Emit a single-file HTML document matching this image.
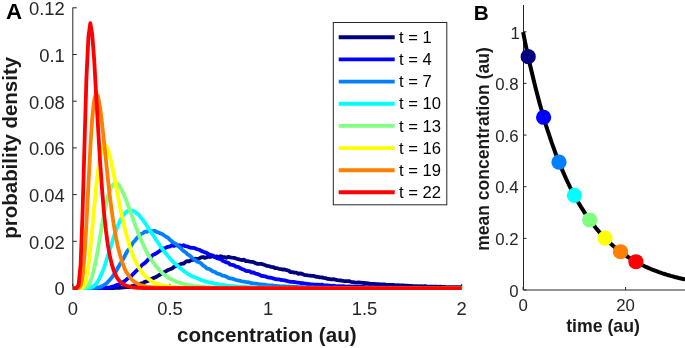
<!DOCTYPE html><html><head><meta charset="utf-8"><title>figure</title><style>html,body{margin:0;padding:0;background:#fff}</style></head><body><svg width="685" height="348" viewBox="0 0 685 348" style="display:block">
<rect width="685" height="348" fill="#fff"/>
<g stroke="#262626" stroke-width="1" fill="none">
<path d="M72.8 7.5V288.5H461.7"/>
<path d="M72.8 288.0h4"/>
<path d="M72.8 241.3h4"/>
<path d="M72.8 194.6h4"/>
<path d="M72.8 147.9h4"/>
<path d="M72.8 101.2h4"/>
<path d="M72.8 54.5h4"/>
<path d="M72.8 7.8h4"/>
<path d="M72.8 288.5v-4.7"/>
<path d="M170.0 288.5v-4.7"/>
<path d="M267.2 288.5v-4.7"/>
<path d="M364.5 288.5v-4.7"/>
<path d="M461.7 288.5v-4.7"/>
</g>
<g font-family="Liberation Sans, Arial, Helvetica, sans-serif" font-size="18.4" fill="#262626">
<text x="64.8" y="295.3" text-anchor="end">0</text>
<text x="64.8" y="248.6" text-anchor="end">0.02</text>
<text x="64.8" y="201.9" text-anchor="end">0.04</text>
<text x="64.8" y="155.2" text-anchor="end">0.06</text>
<text x="64.8" y="108.5" text-anchor="end">0.08</text>
<text x="64.8" y="61.8" text-anchor="end">0.1</text>
<text x="64.8" y="15.1" text-anchor="end">0.12</text>
<text x="72.8" y="314.6" text-anchor="middle">0</text>
<text x="170.0" y="314.6" text-anchor="middle">0.5</text>
<text x="268.1" y="314.6" text-anchor="middle">1</text>
<text x="364.5" y="314.6" text-anchor="middle">1.5</text>
<text x="461.7" y="314.6" text-anchor="middle">2</text>
</g>
<path d="M72.8 288.15 74.7 288.15 76.7 288.15 78.6 288.15 80.6 288.15 82.5 288.15 84.5 288.15 86.4 288.15 88.4 288.15 90.3 288.15 92.2 288.15 94.2 288.15 96.1 288.15 98.1 288.15 100.0 288.15 102.0 288.15 103.9 288.14 105.9 288.13 107.8 288.11 109.7 288.10 111.7 288.07 113.6 287.98 115.6 287.94 117.5 287.89 119.5 287.77 121.4 287.59 123.4 287.32 125.3 287.23 127.2 286.96 129.2 286.54 131.1 286.34 133.1 285.86 135.0 285.25 137.0 284.73 138.9 284.19 140.9 283.45 142.8 283.28 144.7 281.89 146.7 281.42 148.6 280.70 150.6 279.42 152.5 278.38 154.5 277.65 156.4 276.79 158.4 275.51 160.3 274.49 162.2 273.06 164.2 272.17 166.1 271.27 168.1 269.96 170.0 269.31 172.0 268.52 173.9 267.07 175.9 266.11 177.8 265.44 179.7 264.74 181.7 263.55 183.6 263.68 185.6 261.82 187.5 261.17 189.5 261.26 191.4 260.03 193.4 259.84 195.3 258.69 197.2 259.26 199.2 258.43 201.1 257.46 203.1 256.98 205.0 257.95 207.0 257.12 208.9 256.65 210.9 256.88 212.8 255.99 214.7 257.00 216.7 256.43 218.6 257.01 220.6 256.19 222.5 256.85 224.5 257.14 226.4 257.84 228.4 256.80 230.3 257.41 232.2 257.69 234.2 257.86 236.1 258.48 238.1 259.20 240.0 259.64 242.0 260.03 243.9 259.65 245.9 261.09 247.8 261.22 249.7 261.57 251.7 261.83 253.6 262.18 255.6 263.28 257.5 263.92 259.5 263.82 261.4 263.91 263.4 264.55 265.3 265.23 267.2 265.90 269.2 266.19 271.1 266.86 273.1 267.02 275.0 268.01 277.0 268.21 278.9 268.77 280.9 269.05 282.8 269.62 284.8 269.42 286.7 270.20 288.6 270.66 290.6 272.10 292.5 272.07 294.5 272.58 296.4 272.70 298.4 273.87 300.3 273.38 302.3 273.82 304.2 274.82 306.1 275.13 308.1 275.47 310.0 275.63 312.0 275.86 313.9 275.89 315.9 276.77 317.8 276.89 319.8 277.37 321.7 277.34 323.6 277.89 325.6 278.07 327.5 278.89 329.5 279.00 331.4 279.41 333.4 279.22 335.3 279.67 337.3 280.12 339.2 280.41 341.1 280.48 343.1 280.95 345.0 281.22 347.0 281.20 348.9 281.07 350.9 281.77 352.8 282.03 354.8 282.34 356.7 282.56 358.6 282.44 360.6 282.58 362.5 282.90 364.5 283.02 366.4 283.22 368.4 283.39 370.3 283.79 372.3 283.79 374.2 283.85 376.1 284.12 378.1 284.22 380.0 284.40 382.0 284.47 383.9 284.44 385.9 284.72 387.8 284.81 389.8 284.81 391.7 284.94 393.6 284.92 395.6 285.47 397.5 285.23 399.5 285.48 401.4 285.51 403.4 285.52 405.3 285.58 407.3 285.68 409.2 285.85 411.1 285.78 413.1 286.05 415.0 286.11 417.0 286.09 418.9 286.29 420.9 286.10 422.8 286.28 424.8 286.24 426.7 286.49 428.6 286.58 430.6 286.59 432.5 286.60 434.5 286.76 436.4 286.73 438.4 286.81 440.3 286.73 442.3 286.95 444.2 286.87 446.1 287.04 448.1 287.10 450.0 287.12 452.0 287.19 453.9 287.13 455.9 287.11 457.8 287.20 459.8 287.20 461.7 287.17" fill="none" stroke="#000080" stroke-width="3.8" stroke-linejoin="round"/>
<path d="M72.8 288.15 74.7 288.15 76.7 288.15 78.6 288.15 80.6 288.15 82.5 288.15 84.5 288.15 86.4 288.15 88.4 288.15 90.3 288.15 92.2 288.15 94.2 288.14 96.1 288.14 98.1 288.12 100.0 288.08 102.0 288.03 103.9 287.93 105.9 287.81 107.8 287.57 109.7 287.41 111.7 286.89 113.6 286.48 115.6 285.62 117.5 284.81 119.5 284.33 121.4 282.99 123.4 281.83 125.3 280.68 127.2 278.91 129.2 277.55 131.1 276.19 133.1 274.07 135.0 272.20 137.0 270.25 138.9 268.75 140.9 266.26 142.8 264.30 144.7 263.06 146.7 261.07 148.6 259.09 150.6 257.58 152.5 255.11 154.5 254.17 156.4 253.23 158.4 251.86 160.3 250.42 162.2 248.50 164.2 248.51 166.1 247.61 168.1 246.81 170.0 246.48 172.0 245.19 173.9 245.95 175.9 245.29 177.8 245.44 179.7 245.30 181.7 246.10 183.6 245.22 185.6 246.24 187.5 246.57 189.5 247.39 191.4 247.84 193.4 247.94 195.3 248.43 197.2 249.21 199.2 249.77 201.1 250.72 203.1 251.78 205.0 252.31 207.0 253.25 208.9 254.38 210.9 254.96 212.8 255.64 214.7 256.93 216.7 258.05 218.6 258.56 220.6 259.03 222.5 260.69 224.5 261.54 226.4 262.43 228.4 262.83 230.3 264.72 232.2 264.82 234.2 265.38 236.1 266.83 238.1 266.90 240.0 267.97 242.0 269.05 243.9 269.56 245.9 270.78 247.8 271.19 249.7 271.20 251.7 272.60 253.6 272.50 255.6 273.63 257.5 273.95 259.5 274.77 261.4 275.88 263.4 276.01 265.3 276.34 267.2 277.15 269.2 277.67 271.1 277.75 273.1 278.41 275.0 279.06 277.0 279.26 278.9 279.34 280.9 279.98 282.8 280.08 284.8 280.32 286.7 280.94 288.6 281.47 290.6 281.80 292.5 281.87 294.5 282.01 296.4 282.38 298.4 282.60 300.3 283.00 302.3 283.13 304.2 283.47 306.1 283.67 308.1 284.01 310.0 284.24 312.0 284.28 313.9 284.54 315.9 284.70 317.8 284.65 319.8 284.91 321.7 284.70 323.6 285.08 325.6 285.40 327.5 285.37 329.5 285.55 331.4 285.78 333.4 285.71 335.3 286.01 337.3 286.34 339.2 286.06 341.1 286.29 343.1 286.18 345.0 286.46 347.0 286.59 348.9 286.43 350.9 286.73 352.8 286.69 354.8 286.66 356.7 286.83 358.6 286.91 360.6 286.96 362.5 286.96 364.5 287.13 366.4 287.08 368.4 287.13 370.3 287.06 372.3 287.28 374.2 287.36 376.1 287.30 378.1 287.40 380.0 287.40 382.0 287.44 383.9 287.42 385.9 287.55 387.8 287.55 389.8 287.71 391.7 287.65 393.6 287.55 395.6 287.68 397.5 287.71 399.5 287.75 401.4 287.69 403.4 287.73 405.3 287.81 407.3 287.75 409.2 287.78 411.1 287.78 413.1 287.85 415.0 287.77 417.0 287.84 418.9 287.87 420.9 287.90 422.8 287.90 424.8 287.88 426.7 287.93 428.6 287.89 430.6 287.92 432.5 287.91 434.5 287.93 436.4 287.97 438.4 288.03 440.3 287.97 442.3 287.97 444.2 287.99 446.1 287.99 448.1 288.02 450.0 288.03 452.0 288.05 453.9 288.00 455.9 288.03 457.8 288.05 459.8 288.07 461.7 288.05" fill="none" stroke="#0000ff" stroke-width="3.8" stroke-linejoin="round"/>
<path d="M72.8 288.15 74.7 288.15 76.7 288.15 78.6 288.15 80.6 288.15 82.5 288.15 84.5 288.15 86.4 288.15 88.4 288.14 90.3 288.13 92.2 288.10 94.2 287.95 96.1 287.80 98.1 287.38 100.0 287.14 102.0 286.18 103.9 285.11 105.9 283.92 107.8 282.10 109.7 279.98 111.7 277.61 113.6 275.16 115.6 272.09 117.5 268.54 119.5 265.07 121.4 261.98 123.4 258.50 125.3 254.99 127.2 251.30 129.2 248.86 131.1 245.93 133.1 242.58 135.0 240.50 137.0 238.05 138.9 235.85 140.9 234.06 142.8 233.31 144.7 231.59 146.7 231.83 148.6 230.53 150.6 231.16 152.5 231.15 154.5 230.76 156.4 231.70 158.4 232.59 160.3 233.37 162.2 234.09 164.2 235.49 166.1 236.79 168.1 237.79 170.0 239.93 172.0 241.38 173.9 242.98 175.9 243.97 177.8 245.67 179.7 247.20 181.7 249.34 183.6 251.02 185.6 252.25 187.5 254.31 189.5 255.41 191.4 256.97 193.4 258.98 195.3 260.20 197.2 261.61 199.2 262.32 201.1 263.36 203.1 265.51 205.0 266.68 207.0 268.54 208.9 268.88 210.9 270.01 212.8 271.32 214.7 271.76 216.7 273.31 218.6 273.82 220.6 274.56 222.5 275.69 224.5 275.93 226.4 276.59 228.4 277.82 230.3 278.44 232.2 278.61 234.2 279.31 236.1 280.08 238.1 280.40 240.0 280.84 242.0 281.29 243.9 281.54 245.9 282.02 247.8 282.17 249.7 282.59 251.7 283.03 253.6 283.29 255.6 283.55 257.5 283.92 259.5 284.44 261.4 284.40 263.4 284.73 265.3 284.76 267.2 285.15 269.2 285.28 271.1 285.48 273.1 285.51 275.0 285.82 277.0 286.01 278.9 286.09 280.9 286.29 282.8 286.36 284.8 286.48 286.7 286.56 288.6 286.53 290.6 286.81 292.5 286.86 294.5 286.96 296.4 286.97 298.4 287.17 300.3 287.21 302.3 287.22 304.2 287.24 306.1 287.34 308.1 287.41 310.0 287.48 312.0 287.45 313.9 287.44 315.9 287.54 317.8 287.59 319.8 287.61 321.7 287.71 323.6 287.71 325.6 287.73 327.5 287.74 329.5 287.77 331.4 287.85 333.4 287.77 335.3 287.77 337.3 287.87 339.2 287.86 341.1 287.88 343.1 287.88 345.0 287.97 347.0 287.89 348.9 287.96 350.9 287.93 352.8 287.97 354.8 288.00 356.7 288.00 358.6 287.98 360.6 288.04 362.5 288.03 364.5 288.04 366.4 288.08 368.4 288.01 370.3 288.04 372.3 288.06 374.2 288.04 376.1 288.09 378.1 288.07 380.0 288.04 382.0 288.06 383.9 288.12 385.9 288.15 387.8 288.11 389.8 288.08 391.7 288.11 393.6 288.11 395.6 288.10 397.5 288.12 399.5 288.11 401.4 288.10 403.4 288.11 405.3 288.11 407.3 288.13 409.2 288.11 411.1 288.13 413.1 288.11 415.0 288.10 417.0 288.13 418.9 288.13 420.9 288.13 422.8 288.13 424.8 288.13 426.7 288.13 428.6 288.13 430.6 288.13 432.5 288.14 434.5 288.14 436.4 288.14 438.4 288.14 440.3 288.14 442.3 288.14 444.2 288.14 446.1 288.14 448.1 288.14 450.0 288.14 452.0 288.14 453.9 288.14 455.9 288.14 457.8 288.14 459.8 288.14 461.7 288.14" fill="none" stroke="#0080ff" stroke-width="3.8" stroke-linejoin="round"/>
<path d="M72.8 288.15 74.7 288.15 76.7 288.15 78.6 288.15 80.6 288.15 82.5 288.15 84.5 288.14 86.4 288.09 88.4 287.94 90.3 287.71 92.2 286.85 94.2 285.55 96.1 283.77 98.1 281.03 100.0 277.16 102.0 272.92 103.9 268.07 105.9 262.17 107.8 256.03 109.7 249.68 111.7 243.69 113.6 237.13 115.6 231.65 117.5 226.38 119.5 221.93 121.4 218.01 123.4 215.16 125.3 212.99 127.2 211.29 129.2 210.37 131.1 210.51 133.1 210.73 135.0 211.91 137.0 213.51 138.9 215.08 140.9 217.64 142.8 219.83 144.7 222.73 146.7 225.41 148.6 228.58 150.6 231.50 152.5 234.21 154.5 237.32 156.4 240.29 158.4 243.24 160.3 245.91 162.2 248.89 164.2 251.46 166.1 253.80 168.1 256.28 170.0 258.52 172.0 260.55 173.9 262.58 175.9 264.48 177.8 265.98 179.7 267.74 181.7 269.26 183.6 270.90 185.6 272.32 187.5 273.71 189.5 274.71 191.4 276.05 193.4 276.82 195.3 277.54 197.2 278.27 199.2 279.15 201.1 280.15 203.1 280.62 205.0 281.43 207.0 281.75 208.9 282.41 210.9 282.75 212.8 282.93 214.7 283.59 216.7 283.77 218.6 284.41 220.6 284.78 222.5 284.87 224.5 285.09 226.4 285.59 228.4 285.74 230.3 286.10 232.2 286.16 234.2 286.22 236.1 286.47 238.1 286.65 240.0 286.85 242.0 286.82 243.9 286.90 245.9 287.02 247.8 287.13 249.7 287.32 251.7 287.20 253.6 287.38 255.6 287.45 257.5 287.46 259.5 287.67 261.4 287.61 263.4 287.66 265.3 287.68 267.2 287.67 269.2 287.75 271.1 287.87 273.1 287.84 275.0 287.84 277.0 287.87 278.9 287.94 280.9 287.97 282.8 287.92 284.8 287.95 286.7 287.97 288.6 288.03 290.6 287.95 292.5 288.09 294.5 288.03 296.4 287.98 298.4 288.05 300.3 288.05 302.3 288.08 304.2 288.04 306.1 288.10 308.1 288.07 310.0 288.08 312.0 288.11 313.9 288.08 315.9 288.12 317.8 288.11 319.8 288.11 321.7 288.12 323.6 288.11 325.6 288.10 327.5 288.12 329.5 288.13 331.4 288.13 333.4 288.13 335.3 288.13 337.3 288.13 339.2 288.13 341.1 288.13 343.1 288.13 345.0 288.13 347.0 288.14 348.9 288.14 350.9 288.14 352.8 288.14 354.8 288.14 356.7 288.14 358.6 288.14 360.6 288.14 362.5 288.14 364.5 288.14 366.4 288.14 368.4 288.14 370.3 288.14 372.3 288.14 374.2 288.15 376.1 288.15 378.1 288.15 380.0 288.15 382.0 288.15 383.9 288.15 385.9 288.15 387.8 288.15 389.8 288.15 391.7 288.15 393.6 288.15 395.6 288.15 397.5 288.15 399.5 288.15 401.4 288.15 403.4 288.15 405.3 288.15 407.3 288.15 409.2 288.15 411.1 288.15 413.1 288.15 415.0 288.15 417.0 288.15 418.9 288.15 420.9 288.15 422.8 288.15 424.8 288.15 426.7 288.15 428.6 288.15 430.6 288.15 432.5 288.15 434.5 288.15 436.4 288.15 438.4 288.15 440.3 288.15 442.3 288.15 444.2 288.15 446.1 288.15 448.1 288.15 450.0 288.15 452.0 288.15 453.9 288.15 455.9 288.15 457.8 288.15 459.8 288.15 461.7 288.15" fill="none" stroke="#00ffff" stroke-width="3.8" stroke-linejoin="round"/>
<path d="M72.8 288.15 74.7 288.15 76.7 288.15 78.6 288.15 80.6 288.15 82.5 288.08 84.5 287.88 86.4 287.00 88.4 285.31 90.3 281.83 92.2 276.36 94.2 268.52 96.1 259.25 98.1 248.27 100.0 236.94 102.0 225.13 103.9 214.22 105.9 204.88 107.8 196.68 109.7 190.67 111.7 186.13 113.6 183.98 115.6 183.47 117.5 183.79 119.5 186.11 121.4 189.39 123.4 193.32 125.3 198.08 127.2 202.92 129.2 208.37 131.1 213.43 133.1 219.00 135.0 224.70 137.0 229.87 138.9 234.71 140.9 239.64 142.8 243.81 144.7 247.95 146.7 251.91 148.6 255.44 150.6 258.55 152.5 261.40 154.5 264.11 156.4 266.81 158.4 268.93 160.3 271.19 162.2 272.85 164.2 274.69 166.1 275.92 168.1 277.53 170.0 278.68 172.0 279.59 173.9 280.45 175.9 281.59 177.8 282.21 179.7 282.78 181.7 283.36 183.6 284.05 185.6 284.39 187.5 284.85 189.5 285.03 191.4 285.46 193.4 285.95 195.3 286.29 197.2 286.30 199.2 286.41 201.1 286.68 203.1 286.79 205.0 287.04 207.0 287.22 208.9 287.19 210.9 287.34 212.8 287.39 214.7 287.59 216.7 287.57 218.6 287.67 220.6 287.66 222.5 287.77 224.5 287.82 226.4 287.85 228.4 287.82 230.3 287.89 232.2 287.95 234.2 287.98 236.1 288.00 238.1 287.95 240.0 288.05 242.0 288.04 243.9 288.02 245.9 288.02 247.8 288.06 249.7 288.05 251.7 288.06 253.6 288.07 255.6 288.09 257.5 288.07 259.5 288.10 261.4 288.09 263.4 288.13 265.3 288.10 267.2 288.13 269.2 288.14 271.1 288.12 273.1 288.13 275.0 288.13 277.0 288.13 278.9 288.13 280.9 288.14 282.8 288.14 284.8 288.14 286.7 288.14 288.6 288.14 290.6 288.14 292.5 288.14 294.5 288.14 296.4 288.14 298.4 288.14 300.3 288.14 302.3 288.15 304.2 288.15 306.1 288.15 308.1 288.15 310.0 288.15 312.0 288.15 313.9 288.15 315.9 288.15 317.8 288.15 319.8 288.15 321.7 288.15 323.6 288.15 325.6 288.15 327.5 288.15 329.5 288.15 331.4 288.15 333.4 288.15 335.3 288.15 337.3 288.15 339.2 288.15 341.1 288.15 343.1 288.15 345.0 288.15 347.0 288.15 348.9 288.15 350.9 288.15 352.8 288.15 354.8 288.15 356.7 288.15 358.6 288.15 360.6 288.15 362.5 288.15 364.5 288.15 366.4 288.15 368.4 288.15 370.3 288.15 372.3 288.15 374.2 288.15 376.1 288.15 378.1 288.15 380.0 288.15 382.0 288.15 383.9 288.15 385.9 288.15 387.8 288.15 389.8 288.15 391.7 288.15 393.6 288.15 395.6 288.15 397.5 288.15 399.5 288.15 401.4 288.15 403.4 288.15 405.3 288.15 407.3 288.15 409.2 288.15 411.1 288.15 413.1 288.15 415.0 288.15 417.0 288.15 418.9 288.15 420.9 288.15 422.8 288.15 424.8 288.15 426.7 288.15 428.6 288.15 430.6 288.15 432.5 288.15 434.5 288.15 436.4 288.15 438.4 288.15 440.3 288.15 442.3 288.15 444.2 288.15 446.1 288.15 448.1 288.15 450.0 288.15 452.0 288.15 453.9 288.15 455.9 288.15 457.8 288.15 459.8 288.15 461.7 288.15" fill="none" stroke="#80ff80" stroke-width="3.8" stroke-linejoin="round"/>
<path d="M72.8 288.15 74.7 288.15 76.7 288.15 78.6 288.15 80.6 288.04 82.5 287.33 84.5 284.44 86.4 277.63 88.4 265.76 90.3 248.90 92.2 228.87 94.2 207.54 96.1 187.14 98.1 170.04 100.0 157.09 102.0 148.40 103.9 144.93 105.9 145.29 107.8 149.09 109.7 155.86 111.7 163.96 113.6 173.52 115.6 183.72 117.5 193.88 119.5 204.07 121.4 213.82 123.4 222.44 125.3 230.72 127.2 237.87 129.2 244.61 131.1 250.64 133.1 255.77 135.0 260.14 137.0 264.16 138.9 267.72 140.9 270.70 142.8 273.37 144.7 275.55 146.7 277.33 148.6 279.05 150.6 280.36 152.5 281.74 154.5 282.82 156.4 283.67 158.4 284.20 160.3 284.58 162.2 285.13 164.2 285.81 166.1 286.23 168.1 286.32 170.0 286.62 172.0 286.99 173.9 287.00 175.9 287.22 177.8 287.29 179.7 287.47 181.7 287.54 183.6 287.65 185.6 287.78 187.5 287.81 189.5 287.88 191.4 287.87 193.4 287.97 195.3 288.01 197.2 287.97 199.2 287.99 201.1 288.00 203.1 288.03 205.0 288.09 207.0 288.09 208.9 288.10 210.9 288.10 212.8 288.14 214.7 288.11 216.7 288.11 218.6 288.13 220.6 288.12 222.5 288.13 224.5 288.13 226.4 288.13 228.4 288.14 230.3 288.14 232.2 288.14 234.2 288.14 236.1 288.14 238.1 288.14 240.0 288.14 242.0 288.14 243.9 288.15 245.9 288.15 247.8 288.15 249.7 288.15 251.7 288.15 253.6 288.15 255.6 288.15 257.5 288.15 259.5 288.15 261.4 288.15 263.4 288.15 265.3 288.15 267.2 288.15 269.2 288.15 271.1 288.15 273.1 288.15 275.0 288.15 277.0 288.15 278.9 288.15 280.9 288.15 282.8 288.15 284.8 288.15 286.7 288.15 288.6 288.15 290.6 288.15 292.5 288.15 294.5 288.15 296.4 288.15 298.4 288.15 300.3 288.15 302.3 288.15 304.2 288.15 306.1 288.15 308.1 288.15 310.0 288.15 312.0 288.15 313.9 288.15 315.9 288.15 317.8 288.15 319.8 288.15 321.7 288.15 323.6 288.15 325.6 288.15 327.5 288.15 329.5 288.15 331.4 288.15 333.4 288.15 335.3 288.15 337.3 288.15 339.2 288.15 341.1 288.15 343.1 288.15 345.0 288.15 347.0 288.15 348.9 288.15 350.9 288.15 352.8 288.15 354.8 288.15 356.7 288.15 358.6 288.15 360.6 288.15 362.5 288.15 364.5 288.15 366.4 288.15 368.4 288.15 370.3 288.15 372.3 288.15 374.2 288.15 376.1 288.15 378.1 288.15 380.0 288.15 382.0 288.15 383.9 288.15 385.9 288.15 387.8 288.15 389.8 288.15 391.7 288.15 393.6 288.15 395.6 288.15 397.5 288.15 399.5 288.15 401.4 288.15 403.4 288.15 405.3 288.15 407.3 288.15 409.2 288.15 411.1 288.15 413.1 288.15 415.0 288.15 417.0 288.15 418.9 288.15 420.9 288.15 422.8 288.15 424.8 288.15 426.7 288.15 428.6 288.15 430.6 288.15 432.5 288.15 434.5 288.15 436.4 288.15 438.4 288.15 440.3 288.15 442.3 288.15 444.2 288.15 446.1 288.15 448.1 288.15 450.0 288.15 452.0 288.15 453.9 288.15 455.9 288.15 457.8 288.15 459.8 288.15 461.7 288.15" fill="none" stroke="#ffff00" stroke-width="3.8" stroke-linejoin="round"/>
<path d="M72.8 288.15 74.7 288.15 76.7 288.15 78.6 287.97 80.6 285.90 82.5 277.25 84.5 256.61 86.4 224.32 88.4 185.41 90.3 148.41 92.2 118.53 94.2 99.96 96.1 93.21 98.1 96.48 100.0 107.10 102.0 122.89 103.9 141.03 105.9 159.85 107.8 178.20 109.7 195.08 111.7 210.67 113.6 223.77 115.6 235.65 117.5 245.23 119.5 253.22 121.4 259.74 123.4 265.49 125.3 270.19 127.2 273.43 129.2 276.42 131.1 278.93 133.1 280.81 135.0 282.27 137.0 283.35 138.9 284.25 140.9 285.28 142.8 285.47 144.7 286.21 146.7 286.63 148.6 286.85 150.6 287.15 152.5 287.21 154.5 287.45 156.4 287.65 158.4 287.75 160.3 287.84 162.2 287.89 164.2 287.91 166.1 287.99 168.1 287.97 170.0 288.04 172.0 288.06 173.9 288.06 175.9 288.12 177.8 288.11 179.7 288.10 181.7 288.12 183.6 288.12 185.6 288.13 187.5 288.13 189.5 288.14 191.4 288.14 193.4 288.14 195.3 288.14 197.2 288.14 199.2 288.14 201.1 288.15 203.1 288.15 205.0 288.15 207.0 288.15 208.9 288.15 210.9 288.15 212.8 288.15 214.7 288.15 216.7 288.15 218.6 288.15 220.6 288.15 222.5 288.15 224.5 288.15 226.4 288.15 228.4 288.15 230.3 288.15 232.2 288.15 234.2 288.15 236.1 288.15 238.1 288.15 240.0 288.15 242.0 288.15 243.9 288.15 245.9 288.15 247.8 288.15 249.7 288.15 251.7 288.15 253.6 288.15 255.6 288.15 257.5 288.15 259.5 288.15 261.4 288.15 263.4 288.15 265.3 288.15 267.2 288.15 269.2 288.15 271.1 288.15 273.1 288.15 275.0 288.15 277.0 288.15 278.9 288.15 280.9 288.15 282.8 288.15 284.8 288.15 286.7 288.15 288.6 288.15 290.6 288.15 292.5 288.15 294.5 288.15 296.4 288.15 298.4 288.15 300.3 288.15 302.3 288.15 304.2 288.15 306.1 288.15 308.1 288.15 310.0 288.15 312.0 288.15 313.9 288.15 315.9 288.15 317.8 288.15 319.8 288.15 321.7 288.15 323.6 288.15 325.6 288.15 327.5 288.15 329.5 288.15 331.4 288.15 333.4 288.15 335.3 288.15 337.3 288.15 339.2 288.15 341.1 288.15 343.1 288.15 345.0 288.15 347.0 288.15 348.9 288.15 350.9 288.15 352.8 288.15 354.8 288.15 356.7 288.15 358.6 288.15 360.6 288.15 362.5 288.15 364.5 288.15 366.4 288.15 368.4 288.15 370.3 288.15 372.3 288.15 374.2 288.15 376.1 288.15 378.1 288.15 380.0 288.15 382.0 288.15 383.9 288.15 385.9 288.15 387.8 288.15 389.8 288.15 391.7 288.15 393.6 288.15 395.6 288.15 397.5 288.15 399.5 288.15 401.4 288.15 403.4 288.15 405.3 288.15 407.3 288.15 409.2 288.15 411.1 288.15 413.1 288.15 415.0 288.15 417.0 288.15 418.9 288.15 420.9 288.15 422.8 288.15 424.8 288.15 426.7 288.15 428.6 288.15 430.6 288.15 432.5 288.15 434.5 288.15 436.4 288.15 438.4 288.15 440.3 288.15 442.3 288.15 444.2 288.15 446.1 288.15 448.1 288.15 450.0 288.15 452.0 288.15 453.9 288.15 455.9 288.15 457.8 288.15 459.8 288.15 461.7 288.15" fill="none" stroke="#ff8000" stroke-width="3.8" stroke-linejoin="round"/>
<path d="M72.8 288.15 74.7 288.15 76.7 288.07 78.6 284.97 80.6 264.74 82.5 214.46 84.5 144.51 86.4 79.07 88.4 36.85 90.3 23.15 92.2 34.08 94.2 60.25 96.1 93.80 98.1 128.42 100.0 160.57 102.0 188.51 103.9 211.60 105.9 230.17 107.8 244.62 109.7 255.52 111.7 263.88 113.6 270.16 115.6 274.99 117.5 278.60 119.5 280.94 121.4 282.83 123.4 284.51 125.3 285.24 127.2 286.02 129.2 286.48 131.1 287.10 133.1 287.40 135.0 287.49 137.0 287.78 138.9 287.84 140.9 287.93 142.8 287.99 144.7 288.06 146.7 288.05 148.6 288.05 150.6 288.08 152.5 288.10 154.5 288.12 156.4 288.11 158.4 288.13 160.3 288.13 162.2 288.14 164.2 288.14 166.1 288.14 168.1 288.14 170.0 288.15 172.0 288.15 173.9 288.15 175.9 288.15 177.8 288.15 179.7 288.15 181.7 288.15 183.6 288.15 185.6 288.15 187.5 288.15 189.5 288.15 191.4 288.15 193.4 288.15 195.3 288.15 197.2 288.15 199.2 288.15 201.1 288.15 203.1 288.15 205.0 288.15 207.0 288.15 208.9 288.15 210.9 288.15 212.8 288.15 214.7 288.15 216.7 288.15 218.6 288.15 220.6 288.15 222.5 288.15 224.5 288.15 226.4 288.15 228.4 288.15 230.3 288.15 232.2 288.15 234.2 288.15 236.1 288.15 238.1 288.15 240.0 288.15 242.0 288.15 243.9 288.15 245.9 288.15 247.8 288.15 249.7 288.15 251.7 288.15 253.6 288.15 255.6 288.15 257.5 288.15 259.5 288.15 261.4 288.15 263.4 288.15 265.3 288.15 267.2 288.15 269.2 288.15 271.1 288.15 273.1 288.15 275.0 288.15 277.0 288.15 278.9 288.15 280.9 288.15 282.8 288.15 284.8 288.15 286.7 288.15 288.6 288.15 290.6 288.15 292.5 288.15 294.5 288.15 296.4 288.15 298.4 288.15 300.3 288.15 302.3 288.15 304.2 288.15 306.1 288.15 308.1 288.15 310.0 288.15 312.0 288.15 313.9 288.15 315.9 288.15 317.8 288.15 319.8 288.15 321.7 288.15 323.6 288.15 325.6 288.15 327.5 288.15 329.5 288.15 331.4 288.15 333.4 288.15 335.3 288.15 337.3 288.15 339.2 288.15 341.1 288.15 343.1 288.15 345.0 288.15 347.0 288.15 348.9 288.15 350.9 288.15 352.8 288.15 354.8 288.15 356.7 288.15 358.6 288.15 360.6 288.15 362.5 288.15 364.5 288.15 366.4 288.15 368.4 288.15 370.3 288.15 372.3 288.15 374.2 288.15 376.1 288.15 378.1 288.15 380.0 288.15 382.0 288.15 383.9 288.15 385.9 288.15 387.8 288.15 389.8 288.15 391.7 288.15 393.6 288.15 395.6 288.15 397.5 288.15 399.5 288.15 401.4 288.15 403.4 288.15 405.3 288.15 407.3 288.15 409.2 288.15 411.1 288.15 413.1 288.15 415.0 288.15 417.0 288.15 418.9 288.15 420.9 288.15 422.8 288.15 424.8 288.15 426.7 288.15 428.6 288.15 430.6 288.15 432.5 288.15 434.5 288.15 436.4 288.15 438.4 288.15 440.3 288.15 442.3 288.15 444.2 288.15 446.1 288.15 448.1 288.15 450.0 288.15 452.0 288.15 453.9 288.15 455.9 288.15 457.8 288.15 459.8 288.15 461.7 288.15" fill="none" stroke="#ff0000" stroke-width="3.8" stroke-linejoin="round"/>
<rect x="333.3" y="22.5" width="113.5" height="182.3" fill="#fff" stroke="#262626" stroke-width="1"/>
<g font-family="Liberation Sans, Arial, Helvetica, sans-serif" font-size="16.6" fill="#000">
<path d="M338.7 37.3H394.7" stroke="#000080" stroke-width="3.9"/>
<text x="399" y="42.9">t = 1</text>
<path d="M338.7 59.4H394.7" stroke="#0000ff" stroke-width="3.9"/>
<text x="399" y="65.0">t = 4</text>
<path d="M338.7 81.6H394.7" stroke="#0080ff" stroke-width="3.9"/>
<text x="399" y="87.2">t = 7</text>
<path d="M338.7 103.7H394.7" stroke="#00ffff" stroke-width="3.9"/>
<text x="399" y="109.3">t = 10</text>
<path d="M338.7 125.9H394.7" stroke="#80ff80" stroke-width="3.9"/>
<text x="399" y="131.5">t = 13</text>
<path d="M338.7 148.1H394.7" stroke="#ffff00" stroke-width="3.9"/>
<text x="399" y="153.7">t = 16</text>
<path d="M338.7 170.2H394.7" stroke="#ff8000" stroke-width="3.9"/>
<text x="399" y="175.8">t = 19</text>
<path d="M338.7 192.3H394.7" stroke="#ff0000" stroke-width="3.9"/>
<text x="399" y="197.9">t = 22</text>
</g>
<g font-family="Liberation Sans, Arial, Helvetica, sans-serif" font-weight="bold" fill="#1a1a1a">
<text x="5.9" y="19.2" font-size="22.3" fill="#000">A</text>
<text x="266.8" y="341.8" font-size="20.6" text-anchor="middle">concentration (au)</text>
<text transform="translate(16.8,147.8) rotate(-90)" font-size="20.45" text-anchor="middle">probability density</text>
</g>
<g stroke="#262626" stroke-width="1" fill="none">
<path d="M523.5 5V290.0H685"/>
<path d="M523.5 290.0h3"/>
<path d="M523.5 238.4h3"/>
<path d="M523.5 186.7h3"/>
<path d="M523.5 135.1h3"/>
<path d="M523.5 83.4h3"/>
<path d="M523.5 31.8h3"/>
<path d="M523.1 290.0v-3"/>
<path d="M625.6 290.0v-3"/>
</g>
<g font-family="Liberation Sans, Arial, Helvetica, sans-serif" font-size="16.8" fill="#262626">
<text x="518.6" y="296.7" text-anchor="end">0</text>
<text x="518.6" y="245.1" text-anchor="end">0.2</text>
<text x="518.6" y="193.4" text-anchor="end">0.4</text>
<text x="518.6" y="141.8" text-anchor="end">0.6</text>
<text x="518.6" y="90.1" text-anchor="end">0.8</text>
<text x="519.8" y="38.5" text-anchor="end">1</text>
<text x="523.1" y="311.2" text-anchor="middle">0</text>
<text x="625.6" y="311.2" text-anchor="middle">20</text>
</g>
<path d="M523.1 32.15 525.1 42.27 527.2 52.00 529.2 61.35 531.3 70.33 533.4 78.95 535.4 87.24 537.5 95.21 539.5 102.86 541.6 110.21 543.6 117.27 545.6 124.06 547.7 130.58 549.8 136.84 551.8 142.86 553.9 148.65 555.9 154.20 558.0 159.54 560.0 164.67 562.1 169.60 564.1 174.33 566.1 178.88 568.2 183.25 570.2 187.45 572.3 191.49 574.4 195.36 576.4 199.09 578.5 202.67 580.5 206.10 582.6 209.41 584.6 212.58 586.6 215.63 588.7 218.56 590.8 221.38 592.8 224.08 594.9 226.68 596.9 229.18 599.0 231.57 601.0 233.88 603.1 236.09 605.1 238.22 607.2 240.26 609.2 242.23 611.2 244.12 613.3 245.93 615.4 247.67 617.4 249.34 619.5 250.95 621.5 252.50 623.6 253.98 625.6 255.41 627.7 256.78 629.7 258.09 631.8 259.36 633.8 260.57 635.9 261.74 637.9 262.86 640.0 263.94 642.0 264.98 644.1 265.97 646.1 266.93 648.2 267.85 650.2 268.73 652.2 269.58 654.3 270.39 656.4 271.17 658.4 271.92 660.5 272.65 662.5 273.34 664.6 274.01 666.6 274.65 668.7 275.26 670.7 275.86 672.8 276.42 674.8 276.97 676.9 277.49 678.9 278.00 681.0 278.48 683.0 278.95 685.1 279.40" fill="none" stroke="#000" stroke-width="4"/>
<circle cx="528.2" cy="56.72" r="7.6" fill="#000080"/>
<circle cx="543.6" cy="117.27" r="7.6" fill="#0000ff"/>
<circle cx="559.0" cy="162.13" r="7.6" fill="#0080ff"/>
<circle cx="574.4" cy="195.36" r="7.6" fill="#00ffff"/>
<circle cx="589.7" cy="219.98" r="7.6" fill="#80ff80"/>
<circle cx="605.1" cy="238.22" r="7.6" fill="#ffff00"/>
<circle cx="620.5" cy="251.73" r="7.6" fill="#ff8000"/>
<circle cx="635.9" cy="261.74" r="7.6" fill="#ff0000"/>
<g font-family="Liberation Sans, Arial, Helvetica, sans-serif" font-weight="bold" fill="#1a1a1a">
<text x="473.8" y="20.1" font-size="20.8" fill="#000">B</text>
<text x="603" y="332.3" font-size="17.7" text-anchor="middle">time (au)</text>
<text transform="translate(488.9,149.0) rotate(-90)" font-size="17.55" text-anchor="middle">mean concentration (au)</text>
</g>
</svg></body></html>
